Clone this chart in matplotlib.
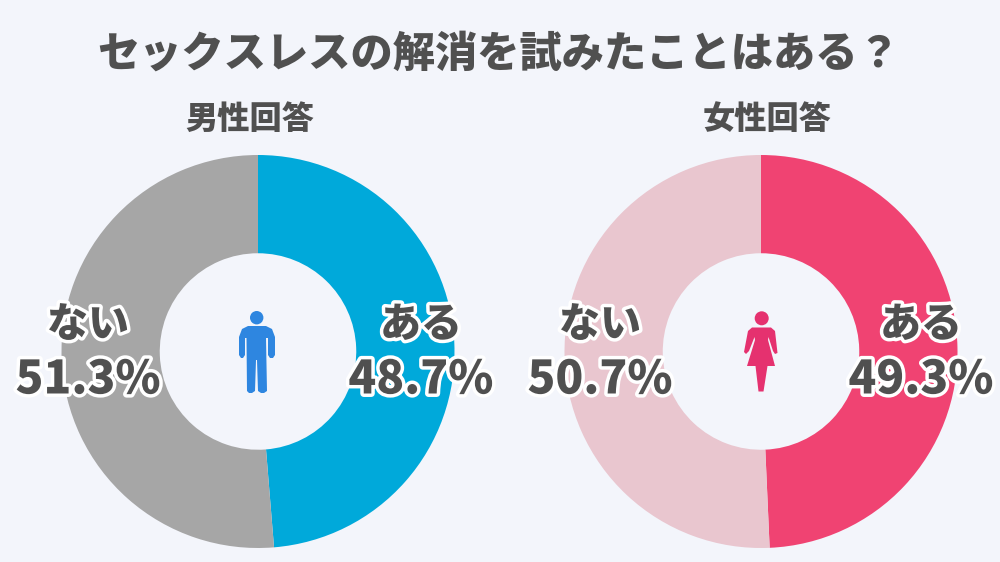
import matplotlib
matplotlib.use("Agg")
import matplotlib.pyplot as plt
import matplotlib.patheffects as pe
from matplotlib.patches import Polygon, Circle

plt.rcParams['font.family'] = ['Noto Sans CJK JP', 'DejaVu Sans']

title = "セックスレスの解消を試みたことはある？"
groups = ["男性回答", "女性回答"]
categories = ["ある", "ない"]
male_values = [48.7, 51.3]
female_values = [49.3, 50.7]
male_colors = ["#00A9DA", "#A6A6A6"]
female_colors = ["#F04372", "#E9C6CF"]
BG = "#F3F5FB"
TXT = "#505050"

fig = plt.figure(figsize=(10, 5.62), dpi=100, facecolor=BG)
W, H = 1000, 562


def pie_ax(cx, cy, r, values, colors):
    ax = fig.add_axes([(cx - r) / W, 1 - (cy + r) / H, 2 * r / W, 2 * r / H])
    ax.pie(values, colors=colors, startangle=90, counterclock=False, radius=1,
           wedgeprops=dict(width=0.5, edgecolor="none"))
    ax.set_xlim(-1, 1)
    ax.set_ylim(-1, 1)
    ax.axis("off")


pie_ax(258, 351.5, 196.5, male_values, male_colors)
pie_ax(761, 351.5, 196.5, female_values, female_colors)

ov = fig.add_axes([0, 0, 1, 1], facecolor="none")
ov.set_xlim(0, W)
ov.set_ylim(H, 0)
ov.axis("off")

ov.text(499, 54, title, ha="center", va="center", fontsize=30.4, fontweight=900, color=TXT)
ov.text(250, 119, groups[0], ha="center", va="center", fontsize=23.2, fontweight=900, color=TXT)
ov.text(767, 119, groups[1], ha="center", va="center", fontsize=23.2, fontweight=900, color=TXT)

stroke = [pe.withStroke(linewidth=5, foreground="white")]


def label(x, y, s, size):
    ov.text(x, y, s, ha="center", va="center", fontsize=size, fontweight=900,
            color=TXT, path_effects=stroke, zorder=5)


label(421, 325, categories[0], 29.5)
label(421, 380, f"{male_values[0]}%", 33)
label(88, 325, categories[1], 29.5)
label(88, 380, f"{male_values[1]}%", 33)
label(921, 325, categories[0], 29.5)
label(921, 380, f"{female_values[0]}%", 33)
label(600, 325, categories[1], 29.5)
label(600, 380, f"{female_values[1]}%", 33)

# male icon
c = "#2E86E0"
ov.add_patch(Circle((256.7, 317.7), 6.7, fc=c, ec="none"))
ov.add_patch(Polygon([(239, 337), (242, 329), (248, 326), (266, 326), (272, 329), (275, 337),
                      (275, 355), (273, 358), (270, 358), (268, 355), (268, 338), (266, 338),
                      (267, 391), (264, 393), (261, 393), (258, 391), (257, 360), (256, 360),
                      (255, 391), (252, 393), (249, 393), (247, 391), (246.5, 338), (245, 338),
                      (245, 355), (243, 358), (241, 358), (239, 355)], closed=True, fc=c, ec="none"))

# female icon
c = "#E5316F"
ov.add_patch(Circle((761.7, 318.3), 7, fc=c, ec="none"))
ov.add_patch(Polygon([(748, 331), (752, 327.5), (771, 327.5), (775, 331), (777.5, 353),
                      (775, 354), (773, 351), (768.5, 337), (768, 340), (775, 366),
                      (767.5, 366), (763.5, 391.5), (758.5, 391.5), (755.5, 366),
                      (747, 366), (755, 340), (754.5, 337), (749, 351), (746, 354), (744, 352)],
                     closed=True, fc=c, ec="none"))

fig.savefig("out.png", dpi=100, facecolor=BG)
